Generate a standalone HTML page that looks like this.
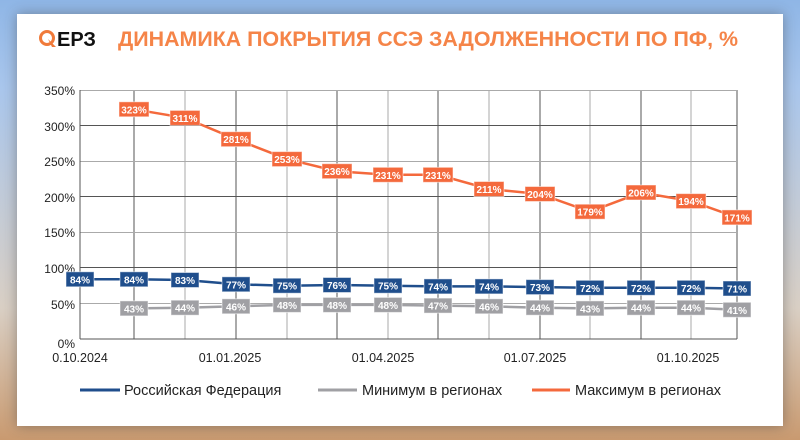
<!DOCTYPE html>
<html><head><meta charset="utf-8"><style>
html,body{margin:0;padding:0;width:800px;height:440px;overflow:hidden}
body{background:linear-gradient(180deg,#8fb6e6 0%,#a9c6ec 20%,#d9cfc4 70%,#c99a70 100%);font-family:"Liberation Sans",sans-serif}
#card{position:absolute;left:17px;top:14px;width:766px;height:412px;background:#fff;box-shadow:0 0 12px rgba(60,60,60,.45)}
svg{position:absolute;left:0;top:0}
.l rect{stroke:#fff;stroke-opacity:.5;stroke-width:1}
.l text{font-size:10px;font-weight:bold;fill:#fff;text-anchor:middle}
.b rect{fill:#1f4e8c}.g rect{fill:#a0a0a4}.o rect{fill:#f4693c}
</style></head><body>
<div id="card"></div>
<svg width="800" height="440" viewBox="0 0 800 440" font-family="Liberation Sans, sans-serif">
<circle cx="47" cy="38" r="6.5" fill="none" stroke="#f07a3a" stroke-width="3"/>
<path d="M48 39 L56 47 L52 47 Z" fill="#f07a3a"/>
<text x="57" y="46" font-size="20" font-weight="bold" fill="#111">ЕРЗ</text>
<text x="118" y="46" font-size="21" font-weight="bold" fill="#f58448" textLength="620" lengthAdjust="spacingAndGlyphs">ДИНАМИКА ПОКРЫТИЯ ССЭ  ЗАДОЛЖЕННОСТИ ПО ПФ, %</text>
<g stroke-width="1">
<line x1="134" y1="90" x2="134" y2="339" stroke="#555"/>
<line x1="185" y1="90" x2="185" y2="339" stroke="#aaa"/>
<line x1="236" y1="90" x2="236" y2="339" stroke="#555"/>
<line x1="287" y1="90" x2="287" y2="339" stroke="#aaa"/>
<line x1="337" y1="90" x2="337" y2="339" stroke="#555"/>
<line x1="388" y1="90" x2="388" y2="339" stroke="#aaa"/>
<line x1="438" y1="90" x2="438" y2="339" stroke="#555"/>
<line x1="489" y1="90" x2="489" y2="339" stroke="#aaa"/>
<line x1="540" y1="90" x2="540" y2="339" stroke="#555"/>
<line x1="590" y1="90" x2="590" y2="339" stroke="#aaa"/>
<line x1="641" y1="90" x2="641" y2="339" stroke="#555"/>
<line x1="691" y1="90" x2="691" y2="339" stroke="#aaa"/>
<line x1="737" y1="90" x2="737" y2="339" stroke="#555"/>
<line x1="80" y1="90.5" x2="737" y2="90.5" stroke="#aaa"/>
<line x1="80" y1="125.5" x2="737" y2="125.5" stroke="#555"/>
<line x1="80" y1="161.5" x2="737" y2="161.5" stroke="#aaa"/>
<line x1="80" y1="196.5" x2="737" y2="196.5" stroke="#555"/>
<line x1="80" y1="232.5" x2="737" y2="232.5" stroke="#aaa"/>
<line x1="80" y1="267.5" x2="737" y2="267.5" stroke="#555"/>
<line x1="80" y1="303.5" x2="737" y2="303.5" stroke="#aaa"/>
<line x1="80" y1="90" x2="80" y2="339" stroke="#555"/>
<line x1="80" y1="339" x2="737" y2="339" stroke="#555"/>
</g>
<g font-size="12" fill="#222" text-anchor="end">
<text x="75" y="95">350%</text><text x="75" y="131">300%</text><text x="75" y="166">250%</text><text x="75" y="202">200%</text><text x="75" y="237">150%</text><text x="75" y="273">100%</text><text x="75" y="309">50%</text><text x="75" y="348">0%</text>
</g>
<g font-size="12.5" fill="#222" text-anchor="middle">
<text x="80" y="362">0.10.2024</text><text x="230" y="362">01.01.2025</text><text x="383" y="362">01.04.2025</text><text x="535" y="362">01.07.2025</text><text x="688" y="362">01.10.2025</text>
</g>
<polyline fill="none" stroke="#a0a0a4" stroke-width="2.5" points="134,308.4 185,307.7 236,306.3 287,304.9 337,304.9 388,304.9 438,305.6 489,306.3 540,307.7 590,308.4 641,307.7 691,307.7 737,309.8"/>
<polyline fill="none" stroke="#1f4e8c" stroke-width="2.5" points="80,279.3 134,279.3 185,280 236,284.3 287,285.7 337,285 388,285.7 438,286.4 489,286.4 540,287.1 590,287.8 641,287.8 691,287.8 737,288.5"/>
<polyline fill="none" stroke="#f4693c" stroke-width="2.5" points="134,109.3 185,117.9 236,139.2 287,159.1 337,171.2 388,174.8 438,174.8 489,189 540,194 590,211.7 641,192.5 691,201.1 737,217.4"/>
<g class="l g">
<g transform="translate(134,308.4)"><rect x="-14" y="-7.5" width="28" height="15"/><text y="4">43%</text></g>
<g transform="translate(185,307.7)"><rect x="-14" y="-7.5" width="28" height="15"/><text y="4">44%</text></g>
<g transform="translate(236,306.3)"><rect x="-14" y="-7.5" width="28" height="15"/><text y="4">46%</text></g>
<g transform="translate(287,304.9)"><rect x="-14" y="-7.5" width="28" height="15"/><text y="4">48%</text></g>
<g transform="translate(337,304.9)"><rect x="-14" y="-7.5" width="28" height="15"/><text y="4">48%</text></g>
<g transform="translate(388,304.9)"><rect x="-14" y="-7.5" width="28" height="15"/><text y="4">48%</text></g>
<g transform="translate(438,305.6)"><rect x="-14" y="-7.5" width="28" height="15"/><text y="4">47%</text></g>
<g transform="translate(489,306.3)"><rect x="-14" y="-7.5" width="28" height="15"/><text y="4">46%</text></g>
<g transform="translate(540,307.7)"><rect x="-14" y="-7.5" width="28" height="15"/><text y="4">44%</text></g>
<g transform="translate(590,308.4)"><rect x="-14" y="-7.5" width="28" height="15"/><text y="4">43%</text></g>
<g transform="translate(641,307.7)"><rect x="-14" y="-7.5" width="28" height="15"/><text y="4">44%</text></g>
<g transform="translate(691,307.7)"><rect x="-14" y="-7.5" width="28" height="15"/><text y="4">44%</text></g>
<g transform="translate(737,309.8)"><rect x="-14" y="-7.5" width="28" height="15"/><text y="4">41%</text></g>
</g>
<g class="l b">
<g transform="translate(80,279.3)"><rect x="-14" y="-7.5" width="28" height="15"/><text y="4">84%</text></g>
<g transform="translate(134,279.3)"><rect x="-14" y="-7.5" width="28" height="15"/><text y="4">84%</text></g>
<g transform="translate(185,280)"><rect x="-14" y="-7.5" width="28" height="15"/><text y="4">83%</text></g>
<g transform="translate(236,284.3)"><rect x="-14" y="-7.5" width="28" height="15"/><text y="4">77%</text></g>
<g transform="translate(287,285.7)"><rect x="-14" y="-7.5" width="28" height="15"/><text y="4">75%</text></g>
<g transform="translate(337,285)"><rect x="-14" y="-7.5" width="28" height="15"/><text y="4">76%</text></g>
<g transform="translate(388,285.7)"><rect x="-14" y="-7.5" width="28" height="15"/><text y="4">75%</text></g>
<g transform="translate(438,286.4)"><rect x="-14" y="-7.5" width="28" height="15"/><text y="4">74%</text></g>
<g transform="translate(489,286.4)"><rect x="-14" y="-7.5" width="28" height="15"/><text y="4">74%</text></g>
<g transform="translate(540,287.1)"><rect x="-14" y="-7.5" width="28" height="15"/><text y="4">73%</text></g>
<g transform="translate(590,287.8)"><rect x="-14" y="-7.5" width="28" height="15"/><text y="4">72%</text></g>
<g transform="translate(641,287.8)"><rect x="-14" y="-7.5" width="28" height="15"/><text y="4">72%</text></g>
<g transform="translate(691,287.8)"><rect x="-14" y="-7.5" width="28" height="15"/><text y="4">72%</text></g>
<g transform="translate(737,288.5)"><rect x="-14" y="-7.5" width="28" height="15"/><text y="4">71%</text></g>
</g>
<g class="l o">
<g transform="translate(134,109.3)"><rect x="-15" y="-7.5" width="30" height="15"/><text y="4">323%</text></g>
<g transform="translate(185,117.9)"><rect x="-15" y="-7.5" width="30" height="15"/><text y="4">311%</text></g>
<g transform="translate(236,139.2)"><rect x="-15" y="-7.5" width="30" height="15"/><text y="4">281%</text></g>
<g transform="translate(287,159.1)"><rect x="-15" y="-7.5" width="30" height="15"/><text y="4">253%</text></g>
<g transform="translate(337,171.2)"><rect x="-15" y="-7.5" width="30" height="15"/><text y="4">236%</text></g>
<g transform="translate(388,174.8)"><rect x="-15" y="-7.5" width="30" height="15"/><text y="4">231%</text></g>
<g transform="translate(438,174.8)"><rect x="-15" y="-7.5" width="30" height="15"/><text y="4">231%</text></g>
<g transform="translate(489,189)"><rect x="-15" y="-7.5" width="30" height="15"/><text y="4">211%</text></g>
<g transform="translate(540,194)"><rect x="-15" y="-7.5" width="30" height="15"/><text y="4">204%</text></g>
<g transform="translate(590,211.7)"><rect x="-15" y="-7.5" width="30" height="15"/><text y="4">179%</text></g>
<g transform="translate(641,192.5)"><rect x="-15" y="-7.5" width="30" height="15"/><text y="4">206%</text></g>
<g transform="translate(691,201.1)"><rect x="-15" y="-7.5" width="30" height="15"/><text y="4">194%</text></g>
<g transform="translate(737,217.4)"><rect x="-15" y="-7.5" width="30" height="15"/><text y="4">171%</text></g>
</g>
<g font-size="14.5" fill="#222">
<line x1="80" y1="390" x2="120" y2="390" stroke="#1f4e8c" stroke-width="3"/><text x="124" y="395">Российская Федерация</text>
<line x1="318" y1="390" x2="357" y2="390" stroke="#a0a0a4" stroke-width="3"/><text x="362" y="395">Минимум в регионах</text>
<line x1="532" y1="390" x2="570" y2="390" stroke="#f4693c" stroke-width="3"/><text x="575" y="395">Максимум в регионах</text>
</g>
</svg>
</body></html>
